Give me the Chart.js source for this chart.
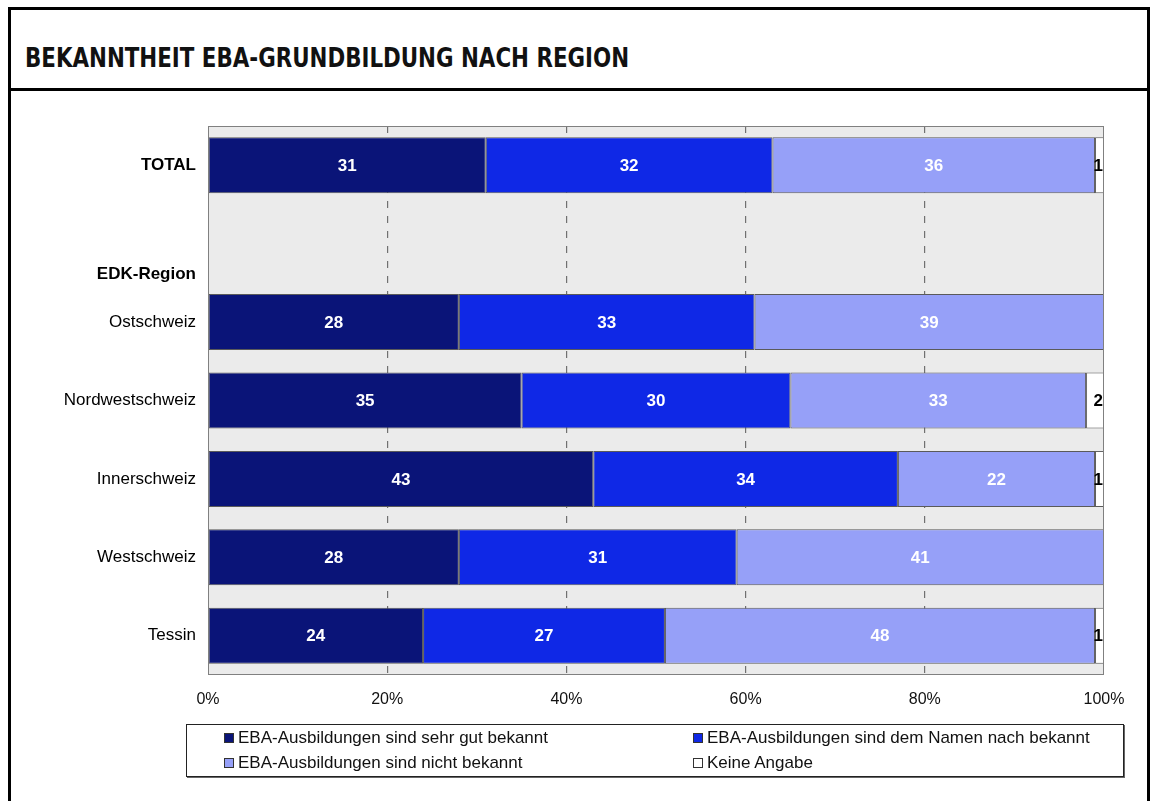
<!DOCTYPE html>
<html>
<head>
<meta charset="utf-8">
<script src="https://cdn.jsdelivr.net/npm/chart.js@4.4.1/dist/chart.umd.min.js"></script>
<style>
    body { margin: 0; background: #fff; width: 1153px; height: 801px; overflow: hidden; position: relative; font-family: "Liberation Sans", Arial, sans-serif; }
    .frame { position: absolute; left: 8px; top: 7px; width: 1136px; height: 820px; border: 3px solid #000; }
    .title-box { position: absolute; left: 8px; top: 7px; width: 1136px; height: 78px; border: 3px solid #000; }
    .title { position: absolute; left: 25px; top: 42px; font-family: "DejaVu Sans Condensed", "DejaVu Sans", sans-serif; font-weight: bold; font-size: 27px; line-height: 32px; color: #111; transform: scaleX(0.88); transform-origin: left top; white-space: nowrap; }
    #wrap { position: absolute; left: 0; top: 0; width: 1153px; height: 801px; }
    .legend { position: absolute; left: 186px; top: 724px; width: 936px; height: 51px; border: 1px solid #222; box-shadow: 1px 1px 0 #666; background: #fff; font-size: 17px; color: #111; }
    .legend .item { position: absolute; display: flex; align-items: center; line-height: 20px; }
    .legend .sw { width: 8px; height: 8px; border: 1px solid #333; margin-right: 4px; }
</style>
</head>
<body>
<div class="frame"></div>
<div class="title-box"></div>
<div class="title">BEKANNTHEIT EBA-GRUNDBILDUNG NACH REGION</div>
<div id="wrap"><canvas id="barChart"></canvas></div>
<div class="legend" id="legend"></div>

<script>
    const categories = ['TOTAL', 'EDK-Region', 'Ostschweiz', 'Nordwestschweiz', 'Innerschweiz', 'Westschweiz', 'Tessin'];
    const seriesNames = [
        'EBA-Ausbildungen sind sehr gut bekannt',
        'EBA-Ausbildungen sind dem Namen nach bekannt',
        'EBA-Ausbildungen sind nicht bekannt',
        'Keine Angabe'
    ];
    const sehrGut = [31, null, 28, 35, 43, 28, 24];
    const demNamen = [32, null, 33, 30, 34, 31, 27];
    const nicht = [36, null, 39, 33, 22, 41, 48];
    const keine = [1, null, 0, 2, 1, 0, 1];
    const xTicks = [0, 20, 40, 60, 80, 100];

    const colors = ['#0a1478', '#0f28e6', '#96a0f8', '#ffffff'];

    // legend as html
    const legend = document.getElementById('legend');
    const legendPos = [[37, 3], [506, 3], [37, 28], [506, 28]];
    seriesNames.forEach((name, i) => {
        const el = document.createElement('div');
        el.className = 'item';
        el.style.left = legendPos[i][0] + 'px';
        el.style.top = legendPos[i][1] + 'px';
        el.innerHTML = '<span class="sw" style="background:' + colors[i] + '"></span><span>' + name + '</span>';
        legend.appendChild(el);
    });

    const plotBg = {
        id: 'plotBg',
        beforeDraw(chart) {
            const { ctx, chartArea: a } = chart;
            ctx.save();
            ctx.fillStyle = '#ebebeb';
            ctx.fillRect(a.left, a.top, a.right - a.left, a.bottom - a.top);
            ctx.restore();
        },
        afterDraw(chart) {
            const { ctx, chartArea: a } = chart;
            ctx.save();
            ctx.strokeStyle = '#808080';
            ctx.lineWidth = 1;
            ctx.strokeRect(a.left + 0.5, a.top + 0.5, a.right - a.left - 1, a.bottom - a.top - 1);
            ctx.restore();
        }
    };

    const valueLabels = {
        id: 'valueLabels',
        afterDatasetsDraw(chart) {
            const ctx = chart.ctx;
            ctx.save();
            ctx.font = 'bold 17px "Liberation Sans", Arial, sans-serif';
            ctx.textBaseline = 'middle';
            chart.data.datasets.forEach((ds, di) => {
                chart.getDatasetMeta(di).data.forEach((bar, i) => {
                    const v = ds.data[i];
                    if (!v) return;
                    if (di === 3) {
                        ctx.fillStyle = '#000';
                        ctx.textAlign = 'right';
                        ctx.fillText(v, bar.x - 1, bar.y + 1);
                    } else {
                        ctx.fillStyle = '#fff';
                        ctx.textAlign = 'center';
                        ctx.fillText(v, (bar.x + bar.base) / 2, bar.y + 1);
                    }
                });
            });
            ctx.restore();
        }
    };

    const ds = [sehrGut, demNamen, nicht, keine].map((d, i) => ({
        label: seriesNames[i],
        data: d,
        backgroundColor: colors[i],
        borderColor: '#5a5a5a',
        borderWidth: 1,
        borderSkipped: false,
        barPercentage: 0.714,
        categoryPercentage: 1
    }));

    new Chart(document.getElementById('barChart').getContext('2d'), {
        type: 'bar',
        data: {
            labels: categories.map(c => c === 'EDK-Region' ? ['', '', '', c] : c),
            datasets: ds
        },
        options: {
            indexAxis: 'y',
            responsive: true,
            maintainAspectRatio: false,
            animation: false,
            layout: { padding: { top: 126, right: 49, bottom: 86, left: 0 } },
            plugins: { legend: { display: false }, tooltip: { enabled: false } },
            scales: {
                x: {
                    stacked: true,
                    min: 0,
                    max: 100,
                    afterBuildTicks: (scale) => { scale.ticks = xTicks.map(v => ({ value: v })); },
                    afterFit: (scale) => { scale.height = 40; },
                    grid: {
                        drawTicks: false,
                        color: (c) => (c.tick && (c.tick.value === 0 || c.tick.value === 100)) ? 'rgba(0,0,0,0)' : '#707070',
                        lineWidth: 1.2
                    },
                    border: { display: false, dash: [7, 8] },
                    ticks: {
                        padding: 15,
                        color: '#111',
                        font: { family: '"Liberation Sans", Arial, sans-serif', size: 16 },
                        callback: (v) => v + '%'
                    }
                },
                y: {
                    stacked: true,
                    afterFit: (scale) => { scale.width = 208; },
                    border: { display: false },
                    grid: { display: false, drawTicks: false },
                    ticks: {
                        autoSkip: false,
                        padding: 12,
                        color: '#000',
                        font: (c) => ({
                            family: '"Liberation Sans", Arial, sans-serif',
                            size: 17,
                            weight: c.index < 2 ? 'bold' : 'normal',
                            lineHeight: 1.2
                        })
                    }
                }
            }
        },
        plugins: [plotBg, valueLabels]
    });
</script>
</body>
</html>
